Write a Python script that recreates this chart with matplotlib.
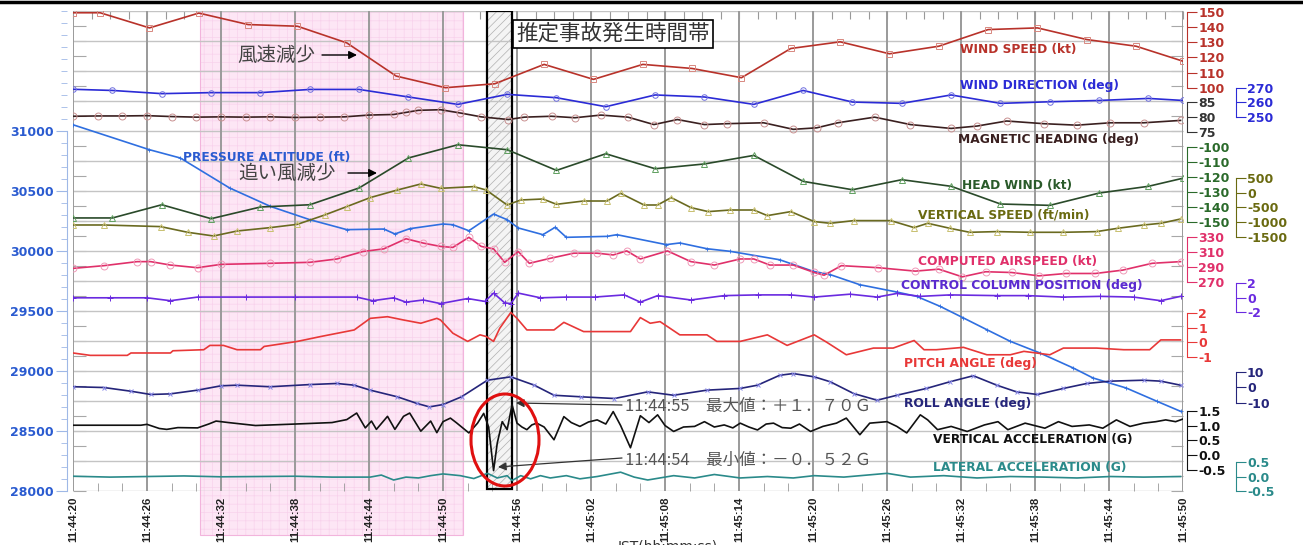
import numpy as np
import matplotlib
matplotlib.use('Agg')
import matplotlib.pyplot as plt
import matplotlib.transforms as mtransforms
from matplotlib.patches import Rectangle, Ellipse
from matplotlib.lines import Line2D
from matplotlib.ticker import FormatStrFormatter, MultipleLocator

# time in seconds after 11:44:20
tick_secs = list(range(0, 91, 6))
tick_labels = ['11:44:20', '11:44:26', '11:44:32', '11:44:38', '11:44:44', '11:44:50',
               '11:44:56', '11:45:02', '11:45:08', '11:45:14', '11:45:20', '11:45:26',
               '11:45:32', '11:45:38', '11:45:44', '11:45:50']

# wind speed (kt)
ws_t = [0, 2.2, 6.2, 10.2, 14.2, 18.2, 22.2, 26.2, 30.2, 34.2, 38.2, 42.2, 46.2, 50.2,
        54.2, 58.2, 62.2, 66.2, 70.2, 74.2, 78.2, 82.2, 86.2, 90]
ws_v = [149.5, 149.5, 139.5, 149.3, 141.7, 140.6, 129.6, 107.7, 100, 102.6, 115.4, 105.5,
        115.4, 112.7, 106.6, 125.9, 130.3, 122.4, 127.4, 138.4, 139.5, 131.8, 127.4, 117.5]

# wind direction (deg)
wd_t = [0, 3.2, 7.2, 11.2, 15.2, 19.2, 23.2, 27.2, 31.2, 35.2, 39.2, 43.2, 47.2, 51.2,
        55.2, 59.2, 63.2, 67.2, 71.2, 75.2, 79.2, 83.2, 87.2, 90]
wd_v = [268.9, 268.1, 265.9, 266.6, 266.6, 268.8, 268.8, 263.6, 258.5, 265.4, 263.1, 256.9,
        265.0, 263.6, 258.5, 268.1, 260.1, 259.2, 265.0, 259.2, 260.3, 261.2, 262.6, 261.2]

# magnetic heading (deg)
mh_t = [0, 2, 4, 6, 8, 10, 12, 14, 16, 18, 20, 22, 24, 26, 27, 28, 29.8, 31.4, 33.1, 35.3,
        36.6, 38.8, 40.7, 42.8, 45, 47.1, 49, 51.2, 53, 56, 58.4, 60.3, 62, 65, 67.9, 71.2,
        73.3, 75.7, 78.7, 81.4, 84.1, 86.8, 89.8]
mh_v = [80.2, 80.3, 80.3, 80.4, 80.1, 79.9, 80.0, 79.9, 80.0, 79.8, 79.9, 80.0, 80.6, 80.8,
        81.5, 82.2, 82.4, 81.3, 80.0, 79.1, 79.9, 80.2, 79.7, 80.6, 79.9, 77.4, 79.1, 77.4,
        77.7, 78.0, 75.8, 76.3, 78.0, 79.9, 77.4, 76.1, 76.9, 78.6, 77.7, 77.2, 78.0, 78.0, 78.8]

# pressure altitude (ft)
alt_t = [0, 6.2, 8.7, 12.7, 16, 19.2, 22.2, 25.2, 26.1, 27.3, 30, 30.8, 32.1, 34.1, 35.2,
         36.1, 38.1, 39.1, 40, 43.3, 44.1, 48.1, 49.2, 51.4, 53.3, 57.3, 60, 61.4, 63.8,
         66.8, 68.4, 70.3, 72.2, 74.1, 76, 78.4, 81.1, 82.7, 85.4, 87.9, 89.8]
alt_v = [31052, 30844, 30775, 30525, 30372, 30261, 30178, 30183, 30142, 30186, 30225, 30219,
         30169, 30308, 30261, 30192, 30136, 30198, 30114, 30122, 30136, 30053, 30067, 30019,
         29997, 29927, 29831, 29803, 29719, 29658, 29622, 29539, 29442, 29344, 29247, 29150,
         29025, 28942, 28858, 28747, 28664]

# head wind (kt)
hw_t = wd_t
hw_v = [-147.5, -147.5, -138.7, -148, -140.2, -138.7, -127.5, -107.5, -98.7, -102, -115.8,
        -104.7, -114.7, -111.5, -105.8, -123.1, -128.7, -122, -126.4, -138.2, -139.1, -130.9,
        -126.4, -121]

# vertical speed (ft/min)
vs_t = [0, 2.5, 7.1, 9.3, 11.4, 13.3, 16, 18.2, 20.4, 22.2, 24.1, 26.3, 28.2, 29.8, 32.5,
        33.5, 35.2, 36.3, 38.1, 39.2, 41.4, 43.3, 44.4, 46.3, 47.4, 48.5, 50.1, 51.5, 53.3,
        55.2, 56.3, 58.2, 60.1, 61.4, 63.3, 66.3, 68.2, 69.3, 71.1, 72.7, 74.9, 77.6, 80.3,
        83, 84.7, 86.8, 88.2, 89.8]
vs_v = [-1087, -1087, -1141, -1332, -1456, -1289, -1175, -1064, -752, -470, -168, 87, 289,
        144, 201, 87, -416, -248, -215, -393, -282, -282, -23, -416, -416, -168, -503, -638,
        -584, -584, -772, -638, -973, -1030, -940, -940, -1175, -1030, -1198, -1332, -1309,
        -1332, -1332, -1309, -1198, -1087, -1030, -886]

# computed airspeed (kt)
cas_t = [0, 2.5, 5.2, 6.3, 7.9, 10.1, 12, 16, 19.2, 21.4, 23.5, 25.2, 27, 28.4, 29.8, 30.8,
         32.1, 33.1, 34.1, 35, 36.1, 37, 38.7, 40.6, 42.5, 43.8, 44.9, 46, 48.2, 50.1, 52,
         54.1, 55.2, 56.5, 58.4, 60.1, 60.9, 62.3, 65.3, 68.3, 70.2, 72.1, 74, 76.1, 78.3,
         80.5, 82.9, 85.1, 87.5, 89.8]
cas_v = [288.3, 291.9, 297.2, 297.2, 292.7, 289.2, 293.6, 295, 296.3, 300.7, 310.5, 314,
         327.3, 321.6, 317.2, 315.9, 329.2, 317.2, 314, 296.3, 310.5, 295, 301.6, 308.3, 308.3,
         306, 311.3, 300.7, 311.3, 297.2, 292.7, 300.7, 300.7, 292.7, 292.7, 282.9, 279.3,
         291.9, 289.2, 284.7, 287.3, 277.2, 283.9, 282.9, 278.5, 281.6, 281.6, 286, 295, 297.2]

# control column position (deg)
cc_t = [0, 3, 6, 7.9, 10.1, 14, 18, 23, 24.3, 26, 27, 28.4, 29.8, 32, 33.4, 34.1, 35, 35.5,
        36.1, 37.9, 40, 42.3, 44.7, 46, 47.4, 50.1, 52.8, 55.5, 58.2, 60.1, 63, 65.2, 66.8,
        68.7, 71.1, 74.9, 77.4, 80.3, 83.3, 86, 88.2, 89.8]
cc_v = [0.0, 0.0, 0.0, -0.4, 0.1, 0.1, 0.1, 0.1, -0.4, 0.0, -0.6, -0.3, -0.8, -0.1, -0.5,
        0.65, -0.7, -0.8, 0.65, 0.0, 0.1, 0.1, 0.4, -0.6, 0.3, -0.3, 0.3, 0.4, 0.4, 0.1, 0.5,
        0.1, 0.6, 0.2, 0.4, 0.3, 0.3, 0.1, 0.2, 0.1, -0.4, 0.2]

# pitch angle (deg)
pt_t = [0, 1.4, 4.4, 4.7, 7.9, 8.1, 10.6, 11.1, 12.2, 13.3, 15.2, 15.5, 18.2, 20.1, 22.8,
        24.1, 25.5, 26.8, 28.2, 29.5, 29.8, 30.8, 32, 33, 33.5, 34.1, 34.6, 35.5, 36, 36.8,
        39, 39.8, 41.4, 45.2, 46, 46.8, 47.6, 49.2, 51.4, 52.2, 54.1, 56.3, 57.9, 60.1, 61.1,
        62.7, 64.9, 66.5, 68.2, 69, 70, 72.2, 74.1, 76, 77.1, 79.2, 80.3, 83, 85.2, 87.3,
        88.2, 89.8]
pt_v = [-0.71, -0.87, -0.87, -0.71, -0.71, -0.56, -0.49, -0.2, -0.2, -0.49, -0.49, -0.27,
        0.07, 0.4, 0.84, 1.62, 1.73, 1.51, 1.29, 1.62, 1.51, 0.62, 0.07, 0.51, 0.4, 0.07,
        0.95, 2.02, 1.62, 0.84, 0.84, 1.35, 0.73, 0.73, 1.67, 1.29, 1.4, 0.51, 0.51, 0.07,
        0.07, 0.51, -0.2, 0.51, 0.02, -0.83, -0.38, -0.38, 0.13, -0.49, -0.49, -0.33, -0.83,
        -0.83, -0.6, -0.83, -0.38, -0.38, -0.49, -0.49, 0.17, 0.17]

# roll angle (deg)
rl_t = [0, 2.5, 4.7, 6.3, 7.9, 10.1, 12, 13.3, 16, 19.2, 21.4, 22.8, 24.1, 26.3, 27.9, 28.9,
        30, 31.5, 33.6, 35.5, 37.4, 39, 41.2, 43.9, 46.6, 48.7, 51.4, 54.1, 55.5, 57.3, 58.4,
        60.1, 61.4, 63.3, 65.2, 66.8, 69.2, 71.1, 73, 74.9, 76.5, 78.2, 80.3, 82.2, 84.1,
        86.8, 88.2, 89.8]
rl_v = [0.3, -0.2, -2.6, -4.7, -4.3, -1.9, 0.9, 1.3, 0.3, 1.7, 2.4, 1.3, -1.9, -6.2, -10.5,
        -12.7, -11.2, -6.2, 4.5, 6.7, 1.3, -5.2, -6.2, -7.3, -3.0, -5.2, -1.9, -0.8, 1.3,
        7.7, 8.8, 6.7, 3.5, -4.1, -8.4, -5.2, -0.8, 3.5, 7.4, 1.3, -3.0, -4.7, -0.8, 2.4,
        3.9, 4.5, 3.9, 1.3]

# vertical acceleration (G)
va_t = [0, 5.5, 6.0, 7.0, 7.6, 8.5, 10.1, 11.0, 11.6, 12.6, 14.8, 18.0, 21.0, 22.2, 23.0,
        23.7, 24.2, 24.6, 25.5, 26.1, 26.8, 27.3, 28.2, 29.0, 29.5, 30.0, 30.6, 31.1, 32.1,
        32.8, 33.3, 33.7, 34.1, 34.4, 34.8, 35.2, 35.6, 36.0, 36.4, 36.8, 37.2, 37.6, 38.2,
        39.0, 39.8, 40.4, 41.1, 41.8, 42.5, 43.2, 43.8, 44.4, 45.2, 46.0, 46.7, 47.4, 48.0,
        48.7, 49.5, 50.4, 51.2, 52.0, 52.8, 53.5, 54.1, 54.8, 55.5, 56.2, 56.8, 57.5, 58.2,
        58.9, 59.8, 60.8, 61.9, 62.7, 63.8, 64.6, 66.0, 66.8, 67.6, 68.7, 69.3, 70.1, 71.2,
        72.5, 73.9, 75.0, 75.8, 77.2, 78.8, 79.9, 81.0, 82.4, 83.5, 84.6, 85.7, 86.8, 87.8,
        88.6, 89.4, 90]
va_v = [1.01, 1.01, 1.04, 0.90, 0.87, 0.93, 0.92, 1.05, 1.15, 1.10, 1.00, 1.05, 1.10, 1.20,
        1.42, 0.92, 1.15, 0.87, 1.31, 0.87, 1.31, 1.42, 0.81, 1.15, 0.76, 1.13, 1.25, 1.09,
        0.75, 1.08, 1.41, 0.95, -0.52, 0.41, 1.13, 0.86, 1.70, 1.08, 0.95, 0.86, 1.02, 1.08,
        0.95, 0.52, 1.30, 1.10, 0.97, 1.12, 1.19, 1.05, 1.47, 1.00, 0.25, 1.33, 1.10, 1.36,
        1.00, 0.80, 0.95, 0.97, 1.13, 0.95, 1.02, 0.92, 1.08, 0.95, 0.85, 1.05, 1.08, 0.93,
        0.91, 1.05, 0.80, 0.97, 1.08, 1.25, 0.69, 1.08, 1.13, 0.97, 0.75, 1.36, 1.19, 0.86,
        0.97, 0.80, 1.02, 1.13, 0.86, 1.08, 0.91, 1.13, 0.97, 1.02, 0.91, 1.19, 0.97, 1.08,
        1.13, 1.19, 1.13, 1.22]

# lateral acceleration (G)
la_t = [0, 3, 6, 9, 12, 15, 18, 21, 24.1, 25, 26, 27, 28, 29, 30, 31.4, 32.5, 33.6, 34.4,
        35.2, 35.6, 36.3, 37.1, 37.9, 38.7, 40, 41.1, 42.5, 44.4, 45.5, 46.6, 48.7, 50.4, 52,
        54.1, 56.3, 58.4, 60.1, 62.5, 66, 67.9, 70.6, 73.3, 76, 78.7, 81.4, 84.1, 86.8, 89.8]
la_v = [0.01, -0.02, 0.0, 0.02, -0.01, 0.0, 0.01, -0.02, -0.02, 0.05, -0.12, -0.02, -0.05,
        0.03, 0.09, 0.03, -0.07, 0.11, -0.05, 0.03, -0.14, 0.03, -0.08, 0.03, -0.05, 0.03,
        -0.08, 0.0, 0.15, -0.02, -0.12, 0.03, -0.05, 0.07, -0.05, 0.0, -0.05, 0.03, -0.02,
        0.11, -0.02, 0.03, -0.05, 0.0, -0.02, -0.05, 0.0, -0.02, 0.0]

W, H = 1303, 545
AX_TOP, AX_BOT, AX_L, AX_R = 11, 491, 73, 1183

plt.rcParams['font.family'] = ['DejaVu Sans', 'Noto Sans CJK JP']
plt.rcParams['hatch.linewidth'] = 0.5
JP = ['Noto Sans CJK JP', 'DejaVu Sans']


def fx(x):
    return x / W


def fy(y):
    return 1 - y / H


fig = plt.figure(figsize=(W / 100, H / 100), dpi=100)
ax = fig.add_axes([fx(AX_L), fy(AX_BOT), (AX_R - AX_L) / W, (AX_BOT - AX_TOP) / H])
ax.set_xlim(0, 90)
ax.set_ylim(28000, 32000)
for s in ['top', 'bottom', 'right']:
    ax.spines[s].set_visible(False)

blend = mtransforms.blended_transform_factory(ax.transData, ax.transAxes)

# pink band and estimated accident window
ax.add_patch(Rectangle((10.3, -0.092), 21.3, 1.092, transform=blend, facecolor='#fde6f5',
                       edgecolor='#f8d2ec', hatch='++', lw=0, clip_on=False, zorder=0.2))
ax.add_patch(Rectangle((10.3, -0.092), 21.3, 1.092, transform=blend, fill=False,
                       edgecolor='#f2b4dc', lw=0.8, clip_on=False, zorder=0.3))
ax.add_patch(Rectangle((33.55, 0.004), 2.03, 0.996, transform=blend, facecolor='#f4f4f4',
                       edgecolor='#b0b0b0', hatch='////', lw=0, zorder=0.4))
ax.add_patch(Rectangle((33.55, 0.004), 2.03, 0.996, transform=blend, fill=False,
                       edgecolor='black', lw=1.6, zorder=3))

# grid
for v in np.arange(28000, 32001, 250):
    ax.axhline(v, color='#c4c4c4', lw=1.0, zorder=1)
for t in tick_secs:
    ax.axvline(t, color='#9a9a9a', lw=1.4, zorder=1)

# x axis
ax.set_xticks(tick_secs)
ax.set_xticklabels(tick_labels, rotation=90, fontsize=8.2, color='#222222',
                   family=['Liberation Sans', 'DejaVu Sans'], fontweight='bold')
ax.xaxis.set_minor_locator(MultipleLocator(2))
ax.tick_params(axis='x', which='major', length=0, pad=4)
ax.tick_params(axis='x', which='minor', direction='in', length=6, color='#999999')

top = ax.secondary_xaxis('top')
top.set_xticks(np.arange(0, 90.1, 1.5))
top.tick_params(direction='in', length=6, color='#999999', labeltop=False)
top.spines['top'].set_visible(False)

# left altitude scale
ax.spines['left'].set_position(('outward', 4))
ax.spines['left'].set_bounds(28000, 31000)
ax.spines['left'].set_color('#9fb8e6')
ax.set_yticks(np.arange(28000, 31001, 500))
ax.yaxis.set_minor_locator(MultipleLocator(100))
ax.tick_params(axis='y', which='major', length=8, color='#9fb8e6', labelsize=9,
               labelcolor='#2a5bd0', pad=2)
ax.tick_params(axis='y', which='minor', length=4, color='#9fb8e6')
for lb in ax.get_yticklabels():
    lb.set_fontweight('bold')
ax.yaxis.set_minor_formatter(plt.NullFormatter())

for loc, ln in [('left', 13), ('right', 12)]:
    sec = ax.secondary_yaxis(loc)
    sec.set_yticks(np.arange(28000, 32001, 125))
    sec.tick_params(direction='in', length=ln * 0.72, color='#a8a8a8',
                    labelleft=False, labelright=False)
    sec.spines[loc].set_visible(False)

ax.plot(alt_t, alt_v, color='#2f6fe0', lw=1.2, marker='+', ms=3, mew=0.6, zorder=5)


def add_scale(t, v, color, ticks, px_a, px_b, col, fmt, tick_color=None, **style):
    tw = ax.twinx()
    va, vb = ticks[-1], ticks[0]
    k = (px_b - px_a) / (va - vb)
    tw.set_ylim(vb - (AX_BOT - px_b) / k, va + (px_a - AX_TOP) / k)
    for s in ['left', 'top', 'bottom']:
        tw.spines[s].set_visible(False)
    sp = tw.spines['right']
    sp.set_position(('outward', 3 if col == 1 else 38))
    sp.set_bounds(vb, va)
    tc = tick_color or color
    sp.set_color(tc)
    sp.set_linewidth(0.8)
    tw.set_yticks(ticks)
    tw.yaxis.set_major_formatter(FormatStrFormatter(fmt))
    tw.tick_params(axis='y', length=7, width=0.8, color=tc, labelsize=9, labelcolor=tc, pad=1)
    for lb in tw.get_yticklabels():
        lb.set_fontweight('bold')
    tw.plot(t, v, color=color, lw=1.2, **style)
    return tw


add_scale(ws_t, ws_v, '#b8322a', [100, 110, 120, 130, 140, 150], 12, 87.7, 1, '%d',
          marker='s', ms=4, mfc='none', mec='#d88880', mew=0.7)
add_scale(wd_t, wd_v, '#2b2bd6', [250, 260, 270], 87.7, 116.7, 2, '%d',
          marker='o', ms=4, mfc='none', mec='#7070e0', mew=0.7)
add_scale(mh_t, mh_v, '#3a2020', [75, 80, 85], 102, 131.7, 1, '%d', tick_color='#333333',
          marker='o', ms=5, mfc='none', mec='#c89090', mew=0.7)
add_scale(hw_t, hw_v, '#2a4a2a', [-150, -140, -130, -120, -110, -100], 146.7, 221.7, 1, '%d',
          tick_color='#2a6a2a', marker='^', ms=4, mfc='none', mec='#60a060', mew=0.7)
add_scale(vs_t, vs_v, '#6a6a20', [-1500, -1000, -500, 0, 500], 177.7, 237.3, 2, '%d',
          tick_color='#6a6a10', marker='^', ms=4, mfc='none', mec='#c8c070', mew=0.7)
add_scale(cas_t, cas_v, '#e0306a', [270, 290, 310, 330], 236.7, 282.3, 1, '%d',
          marker='o', ms=5, mfc='none', mec='#f09ab8', mew=0.7)
add_scale(cc_t, cc_v, '#6a2ae0', [-2, 0, 2], 283.3, 312.3, 2, '%d',
          marker='+', ms=4, mew=0.7)
add_scale(pt_t, pt_v, '#e83838', [-1, 0, 1, 2], 312.7, 357.3, 1, '%d')
add_scale(rl_t, rl_v, '#25257a', [-10, 0, 10], 371.7, 402.7, 2, '%d',
          marker='x', ms=3, mec='#8888e8', mew=0.7)
add_scale(va_t, va_v, '#111111', [-0.5, 0.0, 0.5, 1.0, 1.5], 410.7, 470, 1, '%.1f')
add_scale(la_t, la_v, '#2a8a8a', [-0.5, 0.0, 0.5], 462.7, 491.7, 2, '%.1f')

# series names
names = [
    ('WIND SPEED (kt)', 960, 50, '#b8322a'),
    ('WIND DIRECTION (deg)', 960, 86, '#2b2bd6'),
    ('MAGNETIC HEADING (deg)', 958, 140, '#3a2020'),
    ('PRESSURE ALTITUDE (ft)', 183, 158, '#2a5bd0'),
    ('HEAD WIND (kt)', 962, 186, '#2a5a2a'),
    ('VERTICAL SPEED (ft/min)', 918, 215, '#6a6a10'),
    ('COMPUTED AIRSPEED (kt)', 918, 262, '#e0306a'),
    ('CONTROL COLUMN POSITION (deg)', 901, 286, '#5a2ad0'),
    ('PITCH ANGLE (deg)', 904, 364, '#e83838'),
    ('ROLL ANGLE (deg)', 904, 404, '#25257a'),
    ('VERTICAL ACCELERATION (G)', 933, 440, '#111111'),
    ('LATERAL ACCELERATION (G)', 933, 468, '#2a8a8a'),
]
for txt, x, y, c in names:
    fig.text(fx(x), fy(y), txt, color=c, fontsize=8.8, fontweight='bold', ha='left', va='center')

# japanese notes
fig.text(fx(237), fy(55), '風速減少', family=JP, fontsize=14, color='#444444', va='center')
fig.text(fx(238), fy(173), '追い風減少', family=JP, fontsize=14, color='#444444', va='center')
arrow = dict(arrowstyle='-|>', color='black', lw=1.0, mutation_scale=12, shrinkA=0, shrinkB=0)
ax.annotate('', xy=(357, H - 55), xytext=(322, H - 55), xycoords='figure pixels',
            textcoords='figure pixels', arrowprops=arrow)
ax.annotate('', xy=(377, H - 173), xytext=(348, H - 173), xycoords='figure pixels',
            textcoords='figure pixels', arrowprops=arrow)

fig.text(fx(516), fy(34), '推定事故発生時間帯', family=JP, fontsize=15.5, color='#333333',
         va='center', ha='left',
         bbox=dict(boxstyle='square,pad=0.15', facecolor='white', edgecolor='black', lw=1.2))

fig.text(fx(625), fy(406), '11:44:55　最大値：＋１．７０Ｇ', family=JP, fontsize=11.9,
         color='#555555', va='center', ha='left')
fig.text(fx(625), fy(460), '11:44:54　最小値：－０．５２Ｇ', family=JP, fontsize=11.9,
         color='#555555', va='center', ha='left')
thin = dict(arrowstyle='-|>', color='#333333', lw=0.9, mutation_scale=12, shrinkA=0, shrinkB=0)
ax.annotate('', xy=(516, H - 403), xytext=(622, H - 405), xycoords='figure pixels',
            textcoords='figure pixels', arrowprops=thin)
ax.annotate('', xy=(498, H - 467), xytext=(622, H - 458), xycoords='figure pixels',
            textcoords='figure pixels', arrowprops=thin)

fig.add_artist(Ellipse((fx(505), fy(440)), 68 / W, 92 / H, transform=fig.transFigure,
                       fill=False, edgecolor='#e01010', lw=2.2))

fig.text(fx(668), fy(540), 'JST(hh:mm:ss)', fontsize=10, color='#333333', ha='center', va='top')
fig.add_artist(Line2D([0, 1], [1 - 1.5 / H, 1 - 1.5 / H], transform=fig.transFigure,
                      color='black', lw=2.5))

fig.savefig('out.png', dpi=100)
